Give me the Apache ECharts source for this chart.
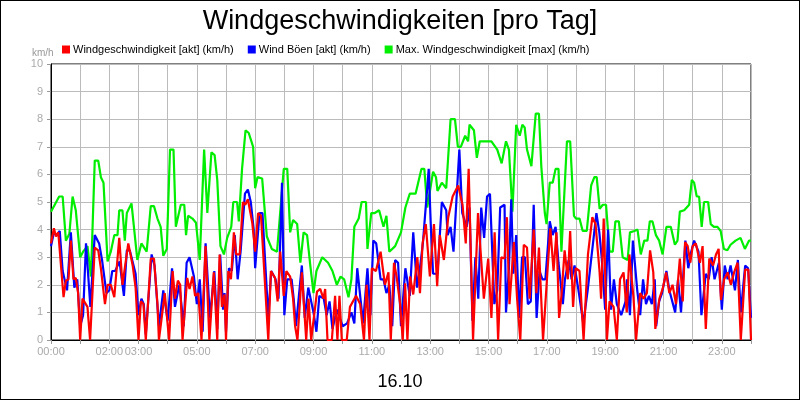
<!DOCTYPE html>
<html>
<head>
<meta charset="utf-8">
<script src="https://cdn.jsdelivr.net/npm/echarts@6/dist/echarts.min.js"></script>
<style>
  html, body { margin: 0; padding: 0; background: #fff; }
  #chart { width: 798px; height: 398px; border: 1px solid #000; }
</style>
</head>
<body>
<div id="chart"></div>
<script>
// Zeitpunkte in Stunden, Werte in km/h
var greenT = [0,0.02,0.28,0.4,0.51,0.63,0.74,0.85,1.0,1.1,1.25,1.37,1.5,1.62,1.71,1.8,1.94,2.05,2.17,2.28,2.34,2.45,2.53,2.6,2.76,2.96,3.1,3.28,3.42,3.53,3.65,3.76,3.85,3.97,4.08,4.2,4.28,4.45,4.57,4.63,4.7,4.85,4.97,5.1,5.25,5.36,5.5,5.61,5.7,5.81,5.93,6.04,6.18,6.25,6.38,6.44,6.55,6.67,6.78,6.93,7.0,7.08,7.24,7.4,7.57,7.75,7.98,8.1,8.2,8.3,8.44,8.55,8.66,8.78,8.89,9.0,9.1,9.3,9.5,9.65,9.8,9.93,10.05,10.2,10.3,10.4,10.55,10.65,10.8,10.85,10.98,11.1,11.25,11.4,11.5,11.6,11.8,12.0,12.15,12.3,12.5,12.7,12.8,12.9,13.1,13.2,13.25,13.4,13.55,13.7,13.85,13.95,14.05,14.2,14.3,14.35,14.5,14.6,14.7,15.1,15.3,15.45,15.6,15.7,15.82,15.95,16.07,16.16,16.24,16.32,16.47,16.62,16.73,16.81,16.93,16.99,17.1,17.2,17.3,17.4,17.5,17.69,17.8,17.93,18.0,18.12,18.23,18.37,18.52,18.63,18.71,18.81,18.92,19.03,19.15,19.26,19.35,19.47,19.6,19.77,19.85,20.0,20.11,20.22,20.34,20.45,20.53,20.62,20.74,20.85,20.97,21.1,21.25,21.39,21.48,21.56,21.71,21.88,21.97,22.05,22.14,22.22,22.31,22.39,22.53,22.62,22.73,22.85,22.96,23.07,23.19,23.3,23.47,23.64,23.79,23.93,24.0];
var greenV = [4.65,4.7,5.2,5.2,3.6,3.85,5.2,4.7,3.0,3.2,3.4,2.3,6.5,6.5,5.9,5.7,2.85,3.2,3.8,3.8,4.7,4.7,3.6,4.6,4.95,2.9,3.5,3.2,4.85,4.85,4.4,4.1,3.05,3.3,6.9,6.9,4.1,4.9,4.9,3.8,4.5,4.4,4.25,2.9,6.9,4.6,6.8,6.7,5.8,3.4,3.1,3.7,4.1,5.0,5.0,4.3,6.2,7.6,7.5,7.0,5.5,5.9,5.85,3.75,3.3,3.2,6.2,6.2,3.9,4.35,4.2,2.8,3.9,3.8,2.7,1.7,2.5,3.0,2.8,2.5,2.0,2.3,2.2,1.55,2.2,4.1,4.4,5.0,5.0,3.3,4.6,4.6,4.7,4.1,4.5,3.2,3.4,3.9,4.8,5.3,5.3,6.2,6.2,4.8,6.1,5.9,5.4,5.7,5.5,8.0,8.0,7.0,7.0,7.4,7.2,7.8,7.6,6.6,7.2,7.2,6.9,6.4,7.2,6.9,4.65,7.8,7.4,7.8,7.7,6.9,6.3,8.2,8.2,6.3,4.6,4.2,5.7,5.7,6.2,6.2,3.2,7.2,7.2,4.5,4.4,4.4,3.95,3.95,5.6,5.9,5.9,4.75,4.9,4.9,3.2,3.2,4.3,4.3,3.0,2.9,3.9,3.95,4.0,3.1,3.6,3.6,4.3,4.3,3.8,3.6,3.1,4.1,4.1,3.45,3.6,4.65,4.7,4.9,5.8,5.7,5.2,5.2,4.1,5.0,5.0,4.2,4.1,4.1,3.95,3.3,3.25,3.45,3.6,3.7,3.3,3.6,3.6];

var redT = [0,0.1,0.17,0.25,0.43,0.51,0.6,0.68,0.77,0.85,0.93,1.0,1.08,1.25,1.34,1.5,1.62,1.71,1.85,1.94,2.05,2.17,2.34,2.45,2.65,2.8,2.9,3.0,3.08,3.17,3.25,3.42,3.53,3.65,3.7,3.9,4.05,4.17,4.25,4.35,4.43,4.51,4.67,4.75,4.85,4.94,5.05,5.16,5.3,5.43,5.58,5.7,5.78,5.86,5.95,6.0,6.08,6.17,6.27,6.35,6.47,6.58,6.66,6.75,6.9,7.0,7.1,7.2,7.45,7.54,7.68,7.77,7.86,7.98,8.07,8.2,8.3,8.37,8.45,8.6,8.75,8.83,8.92,9.12,9.23,9.34,9.4,9.48,9.63,9.74,9.82,9.89,9.97,10.14,10.25,10.46,10.6,10.73,10.82,10.92,11.0,11.14,11.3,11.45,11.57,11.65,11.76,11.85,11.97,12.06,12.14,12.22,12.31,12.42,12.56,12.65,12.74,12.85,12.99,13.13,13.24,13.33,13.47,13.62,13.77,13.96,14.11,14.22,14.32,14.47,14.64,14.84,14.99,15.1,15.21,15.33,15.44,15.55,15.63,15.72,15.87,15.98,16.09,16.21,16.32,16.41,16.55,16.64,16.73,16.87,17.01,17.12,17.23,17.33,17.42,17.5,17.61,17.72,17.8,17.9,17.99,18.12,18.26,18.41,18.56,18.67,18.81,18.86,18.95,19.06,19.15,19.29,19.4,19.51,19.63,19.74,19.83,19.97,20.06,20.2,20.31,20.43,20.54,20.65,20.72,20.86,20.97,21.09,21.2,21.31,21.43,21.56,21.66,21.74,21.83,21.92,22.0,22.11,22.25,22.34,22.45,22.57,22.7,22.8,22.89,22.97,23.08,23.2,23.31,23.42,23.54,23.65,23.8,23.91,24.0];
var redV = [3.5,4.05,3.75,3.9,1.55,2.15,2.2,3.6,2.2,2.25,1.7,0,1.5,1.2,0,3.35,3.25,2.6,1.3,2.0,2.0,1.55,3.7,2.0,3.5,2.7,1.9,0,1.4,1.3,0,2.95,2.95,1.3,0,1.7,0,2.5,1.5,2.15,2.0,0,2.25,1.85,2.3,1.6,1.7,0,3.4,0,2.45,0,3.1,1.2,1.65,0,2.5,2.2,3.9,3.1,3.1,5.0,4.9,5.1,4.25,3.2,4.6,4.5,0,2.5,2.25,1.4,3.2,1.6,2.5,2.3,1.5,0.5,0,2.45,0,1.5,0,1.75,1.85,1.5,1.85,0,0,1.6,0,1.6,0,0,1.2,1.6,1.3,0,2.0,0,2.6,2.5,3.2,2.0,2.45,0,2.8,2.3,1.3,0,2.05,0,2.3,1.65,3.0,1.7,3.5,4.2,2.3,4.2,1.95,3.8,2.9,4.45,5.2,5.6,4.9,3.5,6.2,0,4.6,1.5,2.95,0.8,3.9,0,3.0,2.95,4.45,1.3,3.55,1.5,0,3.45,3.35,1.5,4.0,1.7,3.35,0,2.3,4.05,2.5,3.9,0.8,1.6,3.25,2.2,3.95,1.2,2.6,2.5,0,3.1,4.45,4.2,2.45,1.5,4.4,0,1.4,1.2,0,2.2,2.45,1.0,3.1,1.55,0,1.7,1.5,1.7,3.25,2.45,0.4,1.5,1.85,2.45,1.7,2.0,1.3,2.95,1.4,3.55,3.4,2.8,3.4,3.5,2.8,3.4,0.4,2.95,2.7,3.1,3.3,1.45,2.2,2.45,2.0,2.45,2.8,0,2.55,2.55,0];

var blueT = [0,0.1,0.2,0.3,0.4,0.55,0.68,0.8,0.9,1.0,1.1,1.2,1.35,1.5,1.65,1.75,1.9,2.0,2.1,2.2,2.35,2.5,2.6,2.7,2.9,3.0,3.1,3.18,3.25,3.45,3.55,3.7,3.85,4.0,4.15,4.25,4.4,4.55,4.65,4.75,4.9,5.0,5.1,5.2,5.3,5.45,5.6,5.7,5.8,5.9,5.95,6.0,6.1,6.2,6.3,6.4,6.5,6.65,6.75,6.85,6.95,7.0,7.15,7.25,7.45,7.55,7.7,7.8,7.92,8.0,8.1,8.25,8.32,8.4,8.6,8.7,8.82,9.0,9.1,9.2,9.35,9.45,9.55,9.65,9.8,10.0,10.15,10.3,10.4,10.5,10.7,10.85,10.95,11.05,11.15,11.3,11.4,11.5,11.6,11.7,11.8,11.9,12.0,12.15,12.3,12.42,12.55,12.65,12.75,12.95,13.02,13.1,13.25,13.4,13.55,13.6,13.7,13.8,14.0,14.1,14.25,14.35,14.45,14.55,14.65,14.75,14.85,14.95,15.05,15.2,15.3,15.4,15.55,15.6,15.7,15.78,15.85,15.95,16.05,16.15,16.25,16.35,16.45,16.55,16.65,16.75,16.85,16.95,17.1,17.2,17.3,17.4,17.55,17.62,17.75,17.85,17.95,18.1,18.25,18.4,18.55,18.7,18.8,18.88,19.0,19.1,19.2,19.3,19.4,19.55,19.7,19.75,19.85,19.95,20.1,20.2,20.3,20.4,20.5,20.6,20.7,20.75,20.85,20.95,21.1,21.2,21.4,21.5,21.6,21.75,21.85,21.95,22.05,22.2,22.3,22.45,22.55,22.65,22.75,22.9,23.0,23.1,23.2,23.3,23.45,23.55,23.65,23.8,23.9,24.0];
var blueV = [3.4,3.9,3.8,3.95,2.5,1.8,3.9,1.9,2.2,0.5,0.9,3.5,1.2,3.8,3.5,2.9,1.7,1.8,2.5,2.5,2.85,1.6,3.25,3.25,2.4,0.9,1.5,1.3,0.2,3.1,2.7,0.5,1.8,0.7,2.6,1.2,2.0,0.5,2.8,3.0,2.3,1.3,2.2,0.3,3.5,0.8,2.5,0.4,3.1,1.1,1.7,0.3,2.6,2.5,3.8,2.2,3.2,5.3,5.45,5.0,4.0,2.6,4.6,4.6,0.8,2.5,2.2,1.5,5.7,0.9,2.2,2.2,1.5,0.5,2.7,0.8,1.9,1.0,0.3,1.6,1.5,0.9,1.4,0.4,1.1,0.5,0.6,1.0,0.6,2.6,0.6,2.6,0.9,3.6,3.5,2.2,2.2,1.7,2.0,0.5,2.9,2.8,0.5,2.6,1.6,3.9,1.9,2.6,3.5,6.2,4.2,2.4,2.4,5.0,4.7,3.8,4.1,3.2,6.9,4.6,4.1,4.8,0.7,3.0,1.5,4.8,3.7,5.2,5.3,1.3,1.8,4.8,4.9,1.0,2.6,5.1,2.4,3.8,0.8,3.0,3.0,1.3,1.4,4.9,0.8,2.5,2.2,2.2,4.3,3.8,4.1,2.8,1.3,2.2,2.9,2.2,2.7,1.7,0.6,1.8,3.2,4.6,3.9,3.0,1.1,4.0,1.1,2.2,1.3,0.9,1.4,2.2,0.9,3.6,1.8,0.9,2.2,1.3,1.6,1.3,2.2,0.5,1.4,1.7,2.5,1.8,1.0,2.2,1.0,3.6,2.6,3.2,3.6,3.2,0.9,2.4,2.2,3.0,2.2,2.8,1.1,2.7,2.2,2.7,1.8,2.9,1.0,2.7,2.6,0.8];

var shownHours = [0, 2, 3, 5, 7, 9, 11, 13, 15, 17, 19, 21, 23];

function pairs(t, v) {
    var out = [];
    for (var i = 0; i < t.length; i++) out.push([t[i], v[i]]);
    return out;
}
function pad(n) { return (n < 10 ? '0' : '') + n + ':00'; }

var chart = echarts.init(document.getElementById('chart'));
var font = 'Liberation Sans, Arial, sans-serif';
chart.setOption({
    animation: false,
    textStyle: { fontFamily: font },
    title: [
        { text: 'Windgeschwindigkeiten [pro Tag]', left: 'center', top: 2,
          textStyle: { fontSize: 27, fontWeight: 'normal', color: '#000', fontFamily: font } },
        { text: 'km/h', left: 26, top: 42,
          textStyle: { fontSize: 10, fontWeight: 'normal', color: '#999', fontFamily: font } },
        { text: '16.10', left: 'center', top: 367,
          textStyle: { fontSize: 18, fontWeight: 'normal', color: '#000', fontFamily: font } }
    ],
    legend: {
        left: 56, top: 38, itemGap: 14, itemWidth: 8, itemHeight: 8, icon: 'rect',
        textStyle: { fontSize: 11, color: '#000', fontFamily: font, padding: [0, 0, 0, -2] },
        data: ['Windgeschwindigkeit [akt] (km/h)', 'Wind Böen [akt] (km/h)', 'Max. Windgeschwindigkeit [max] (km/h)']
    },
    grid: { left: 50, right: 48, top: 63, bottom: 59, show: true, borderColor: '#000', borderWidth: 1 },
    xAxis: {
        type: 'value', min: 0, max: 24, interval: 1,
        axisLine: { lineStyle: { color: '#000' } },
        axisTick: { show: true, length: 4, lineStyle: { color: '#999' } },
        splitLine: { lineStyle: { color: '#bbb' } },
        axisLabel: { color: '#aaa', fontSize: 11, margin: 6,
            formatter: function (v) { return shownHours.indexOf(v) >= 0 ? pad(v) : ''; } }
    },
    yAxis: {
        type: 'value', min: 0, max: 10, interval: 1,
        axisLine: { show: true, lineStyle: { color: '#000' } },
        axisTick: { show: true, length: 4, lineStyle: { color: '#999' } },
        splitLine: { lineStyle: { color: '#bbb' } },
        axisLabel: { color: '#aaa', fontSize: 11, margin: 8 }
    },
    series: [
        { name: 'Max. Windgeschwindigkeit [max] (km/h)', type: 'line', showSymbol: false,
          data: pairs(greenT, greenV), itemStyle: { color: '#00ee00' }, lineStyle: { width: 2.2, color: '#00ee00' } },
        { name: 'Wind Böen [akt] (km/h)', type: 'line', showSymbol: false,
          data: pairs(blueT, blueV), itemStyle: { color: '#0000ff' }, lineStyle: { width: 2.2, color: '#0000ff' } },
        { name: 'Windgeschwindigkeit [akt] (km/h)', type: 'line', showSymbol: false,
          data: pairs(redT, redV), itemStyle: { color: '#ff0000' }, lineStyle: { width: 2.2, color: '#ff0000' } }
    ]
});
</script>
</body>
</html>
